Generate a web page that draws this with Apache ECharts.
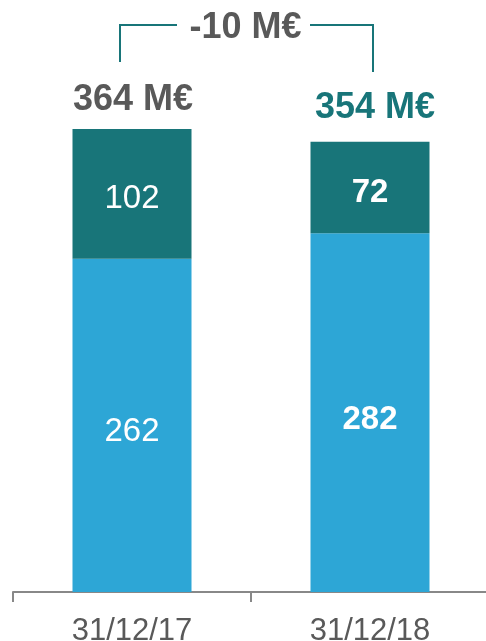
<!DOCTYPE html>
<html>
<head>
	<meta charset="utf-8">
	<title></title>
	<style type="text/css">
		html, body { margin: 0; padding: 0; background: #fff; }
		#main { width: 486px; height: 641px; }
	</style>
	<script src='https://cdn.jsdelivr.net/npm/echarts@6/dist/echarts.min.js'></script>
</head>
<body>
	<div id="main"></div>

	<script type="text/javascript">
		var categories = ['31/12/17', '31/12/18'];
		var lower = [262, 282];
		var upper = [102, 72];
		var totals = [364, 354];
		var delta = -10;

		var font = 'Liberation Sans, Arial, sans-serif';
		var grey = '#595959';
		var teal = '#187579';
		var blue = '#2DA6D6';

		var chart = echarts.init(document.getElementById('main'));

		var option = {
			animation: false,
			grid: { left: 13, width: 476, top: 129, bottom: 49, outerBoundsMode: 'none', containLabel: false },
			xAxis: {
				type: 'category',
				data: categories,
				axisLine: { lineStyle: { color: '#888', width: 2 } },
				axisTick: { show: true, alignWithLabel: false, length: 10, lineStyle: { color: '#888', width: 2 } },
				axisLabel: { color: grey, fontSize: 31, fontFamily: font, margin: 24 }
			},
			yAxis: { type: 'value', min: 0, max: 364, show: false },
			series: [{
				type: 'bar',
				stack: 'a',
				barWidth: 119,
				itemStyle: { color: blue },
				label: {
					show: true, position: 'inside', color: '#fff',
					fontSize: 33, fontFamily: font, offset: [0, 7]
				},
				data: lower.map(function (v, i) {
					return { value: v, label: { fontWeight: i === 1 ? 'bold' : 'normal' } };
				})
			}, {
				type: 'bar',
				stack: 'a',
				itemStyle: { color: teal },
				label: {
					show: true, position: 'inside', color: '#fff',
					fontSize: 33, fontFamily: font, offset: [0, 5]
				},
				data: upper.map(function (v, i) {
					return { value: v, label: { fontWeight: i === 1 ? 'bold' : 'normal' } };
				})
			}, {
				type: 'bar',
				stack: 'a',
				itemStyle: { color: 'transparent' },
				label: {
					show: true, position: 'top', fontSize: 36, fontWeight: 'bold',
					fontFamily: font,
					formatter: function (p) { return totals[p.dataIndex] + ' M€'; }
				},
				data: totals.map(function (v, i) {
					return {
						value: 0,
						label: i === 0
							? { color: grey, distance: 11, offset: [1, 0] }
							: { color: teal, distance: 16, offset: [5, 0] }
					};
				})
			}]
		};

		chart.setOption(option);

		// bracket showing the change between the two dates
		var x0 = chart.convertToPixel({ xAxisIndex: 0 }, 0) - 12;
		var x1 = chart.convertToPixel({ xAxisIndex: 0 }, 1) + 3;
		var yTop = 25;
		chart.setOption({
			graphic: [{
				type: 'polyline',
				shape: { points: [[x0, 62], [x0, yTop], [177, yTop]] },
				style: { stroke: teal, lineWidth: 2, fill: null }
			}, {
				type: 'polyline',
				shape: { points: [[310, yTop], [x1, yTop], [x1, 72]] },
				style: { stroke: teal, lineWidth: 2, fill: null }
			}, {
				type: 'text',
				x: 245.5,
				y: 28,
				style: {
					text: delta + ' M€', fill: grey, font: 'bold 36px ' + font,
					align: 'center', verticalAlign: 'middle'
				}
			}]
		});
	</script>
</body>
</html>
